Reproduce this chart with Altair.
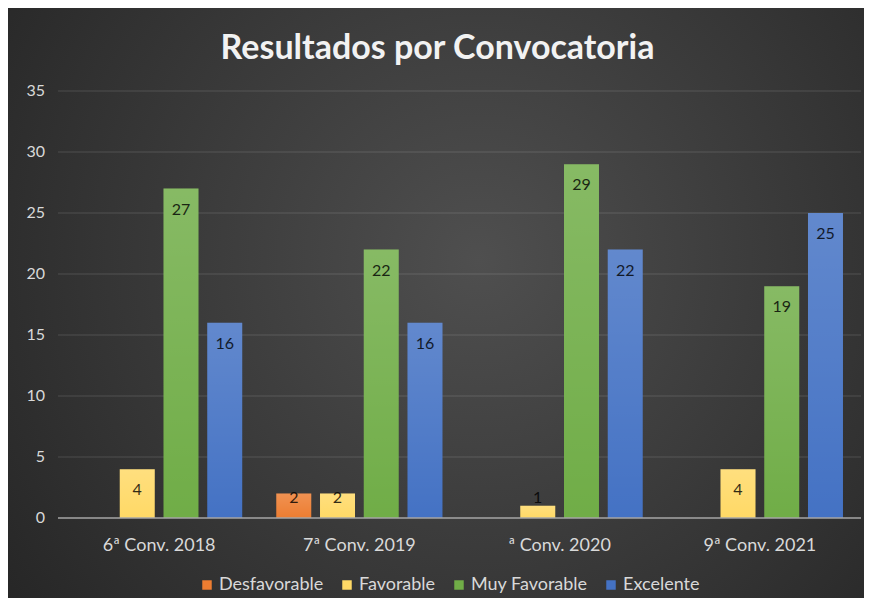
import altair as alt
import pandas as pd

categories = ["6ª Conv. 2018", "7ª Conv. 2019", "ª Conv. 2020", "9ª Conv. 2021"]
series = ["Desfavorable", "Favorable", "Muy Favorable", "Excelente"]
desfavorable = [0, 2, 0, 0]
favorable = [4, 2, 1, 4]
muy_favorable = [27, 22, 29, 19]
excelente = [16, 16, 22, 25]
y_ticks = [0, 5, 10, 15, 20, 25, 30, 35]
colors = ["#ED7D31", "#FFD966", "#70AD47", "#4472C4"]

rows = []
for s, vals in zip(series, [desfavorable, favorable, muy_favorable, excelente]):
    for c, v in zip(categories, vals):
        rows.append({"cat": c, "serie": s, "v": v})
df = pd.DataFrame(rows)
ticks_df = pd.DataFrame({"t": y_ticks})
cats_df = pd.DataFrame({"cat": categories})

W, H = 803, 427
PL, PT, PR, PB = 50, 83, 3, 80
FONT = "Lato"
LABEL_COLOR = "#D9D9D9"

xscale = alt.Scale(domain=categories, paddingInner=0.17, paddingOuter=0.09)
xoff = alt.Scale(domain=series, paddingInner=0.2, paddingOuter=0)
yscale = alt.Scale(domain=[0, 35], nice=False)

bg = alt.Chart(alt.Data(values=[{"a": 1}])).mark_rect(
    fill={
        "gradient": "radial",
        "x1": 0.55, "y1": 0.45, "r1": 0,
        "x2": 0.55, "y2": 0.45, "r2": 0.75,
        "stops": [
            {"offset": 0, "color": "#4f4f4f"},
            {"offset": 1, "color": "#222222"},
        ],
    }
).encode(
    x=alt.value(-PL), x2=alt.value(W + PR), y=alt.value(-PT), y2=alt.value(H + PB)
)

grid = alt.Chart(ticks_df).transform_filter("datum.t > 0").mark_rule(
    color="#ffffff", opacity=0.14, strokeWidth=1
).encode(
    y=alt.Y("t:Q", scale=yscale, axis=None),
    x=alt.value(0),
    x2=alt.value(W),
)

ylabels = alt.Chart(ticks_df).mark_text(
    align="right", baseline="middle", fontSize=16, font=FONT, color=LABEL_COLOR
).encode(
    y=alt.Y("t:Q", scale=yscale, axis=None),
    x=alt.value(-13),
    text=alt.Text("t:Q"),
)

base = alt.Chart(df).transform_filter("datum.v > 0")

X = alt.X("cat:N", scale=xscale, sort=categories, axis=None)
XO = alt.XOffset("serie:N", scale=xoff, sort=series)

bars = base.mark_bar().encode(
    x=X,
    xOffset=XO,
    y=alt.Y("v:Q", scale=yscale, axis=None),
    color=alt.Color("serie:N", scale=alt.Scale(domain=series, range=colors),
                    sort=series,
                    legend=alt.Legend(title=None, orient="none", direction="horizontal",
                                      legendX=140, legendY=485, symbolType="square",
                                      symbolSize=90, symbolStrokeWidth=0,
                                      labelFontSize=18, labelColor=LABEL_COLOR,
                                      labelFont=FONT, columnPadding=14, labelOffset=3)),
)

gloss = base.mark_bar(
    fill={
        "gradient": "linear", "x1": 0, "y1": 0, "x2": 0, "y2": 1,
        "stops": [
            {"offset": 0, "color": "rgba(255,255,255,0.16)"},
            {"offset": 1, "color": "rgba(255,255,255,0)"},
        ],
    }
).encode(
    x=X,
    xOffset=XO,
    y=alt.Y("v:Q", scale=yscale, axis=None),
)

baseline_rule = alt.Chart(alt.Data(values=[{"z": 0}])).mark_rule(
    color="#A6A6A6", strokeWidth=1.5
).encode(
    y=alt.Y("z:Q", scale=yscale, axis=None),
    x=alt.value(0),
    x2=alt.value(W),
)

xlabels = alt.Chart(cats_df).mark_text(
    align="center", baseline="middle", fontSize=18, font=FONT, color=LABEL_COLOR
).encode(
    x=alt.X("cat:N", scale=xscale, sort=categories, axis=None),
    y=alt.value(H + 28),
    text=alt.Text("cat:N"),
)

labels = base.transform_calculate(
    ly="max(datum.v - 1.72, 1.64)"
).mark_text(
    baseline="middle", align="center", fontSize=16, font=FONT,
    color="#000000", opacity=0.8
).encode(
    x=X,
    xOffset=XO,
    y=alt.Y("ly:Q", scale=yscale, axis=None),
    text=alt.Text("v:Q"),
)

chart = alt.layer(bg, grid, ylabels, bars, gloss, baseline_rule, xlabels, labels).properties(
    width=W, height=H,
    padding={"left": PL, "top": PT, "right": PR, "bottom": PB},
    autosize=alt.AutoSizeParams(type="none"),
    background="#262626",
    title=alt.TitleParams("Resultados por Convocatoria", fontSize=34, font=FONT,
                          fontWeight="bold", color="#F2F2F2", anchor="middle",
                          baseline="middle", dx=-22, dy=75, offset=0),
).configure_view(stroke=None)

chart.save("out.html", embed_options={"renderer": "svg", "actions": False})
